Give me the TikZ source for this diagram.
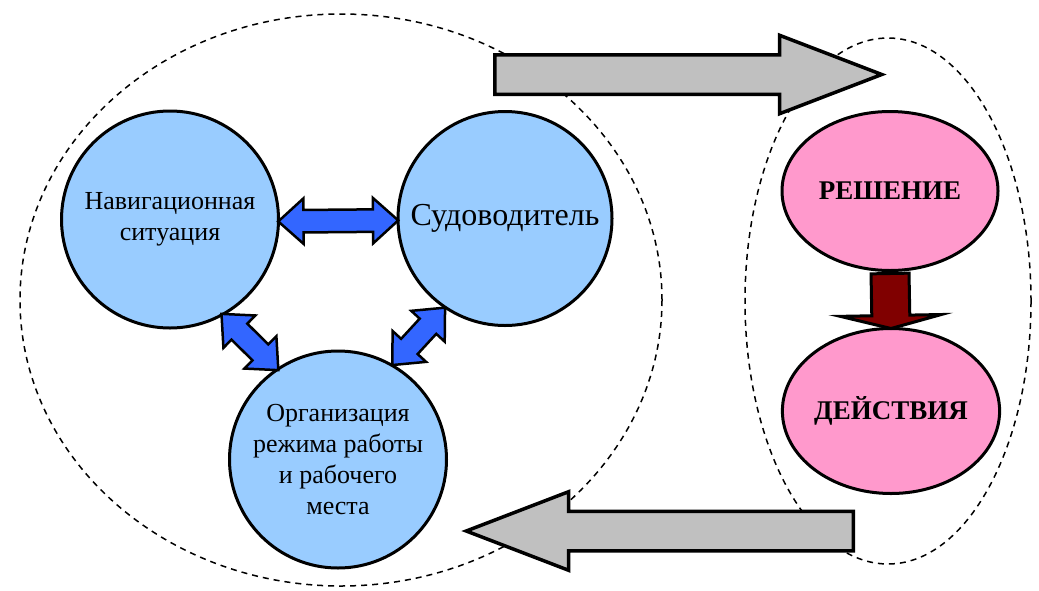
\documentclass[tikz,border=0pt]{standalone}
\usepackage{fontspec}
\setmainfont{Liberation Serif}
\usetikzlibrary{shapes.geometric, shapes.arrows, calc}
\definecolor{skyblue}{HTML}{99CCFF}
\definecolor{linkblue}{HTML}{3366FF}
\definecolor{rosepink}{HTML}{FF99CC}
\definecolor{darkred}{HTML}{800000}
\definecolor{arrowgray}{HTML}{C0C0C0}

\begin{document}
\begin{tikzpicture}[x=1pt, y=-1pt,
    circ/.style={circle, draw, line width=3pt, fill=skyblue, align=center, inner sep=0pt, font=\fontsize{26}{31}\selectfont},
    oval/.style={ellipse, draw, line width=3pt, fill=rosepink, inner sep=0pt, font=\fontsize{27}{32}\selectfont\bfseries},
    bigarrow/.style={single arrow, draw, line width=3.5pt, fill=arrowgray, inner sep=0pt, inner ysep=18pt, minimum width=75pt, minimum height=387pt, single arrow head extend=19.5pt, single arrow tip angle=42, anchor=tail},
    link/.style={double arrow, draw, line width=2.5pt, fill=linkblue, inner sep=0pt, inner ysep=10pt, minimum width=43pt, double arrow head extend=11.5pt, double arrow tip angle=84, midway, sloped},
    result/.style={single arrow, draw, line width=3pt, fill=darkred, inner sep=0pt, inner ysep=17.5pt, minimum width=98pt, single arrow head extend=31.5pt, single arrow tip angle=151, minimum height=55pt, pos=0, anchor=tail, sloped, allow upside down}]
  \useasboundingbox (0,0) rectangle (1039,590);

  % dashed groups
  \draw[dashed, line width=1.5pt, dash pattern=on 6pt off 5pt] (341,300) ellipse [x radius=321, y radius=286];
  \draw[dashed, line width=1.5pt, dash pattern=on 6pt off 5pt] (888,301) ellipse [x radius=143, y radius=263];

  % feedback arrows
  \node[bigarrow] (fwd) at (493,74.5) {};
  \node[bigarrow, shape border rotate=180] (back) at (855,531) {};

  % left group
  \node[circ, minimum size=217pt] (nav) at (170,219.5) {Навигационная\\ситуация};
  \node[circ, minimum size=214pt, font=\fontsize{32}{38}\selectfont] (sud) at (505,218.5) {Судоводитель};
  \node[circ, minimum size=217pt] (org) at (338,459.5) {Организация\\режима работы\\и рабочего\\места};

  \path (nav.-1.5) -- (sud.181.5) node[link, minimum height=120pt] {};
  \path (nav.-61) -- (org.124) node[link, minimum height=80pt] {};
  \path (sud.-124) -- (org.60) node[link, minimum height=78pt] {};

  % right group
  \node[oval, minimum width=216pt, minimum height=159pt] (resh) at (890,191) {РЕШЕНИЕ};
  \node[oval, minimum width=215pt, minimum height=165pt] (deys) at (891,411) {ДЕЙСТВИЯ};
  \path (resh.south) -- (deys.north) node[result] {};
\end{tikzpicture}
\end{document}
